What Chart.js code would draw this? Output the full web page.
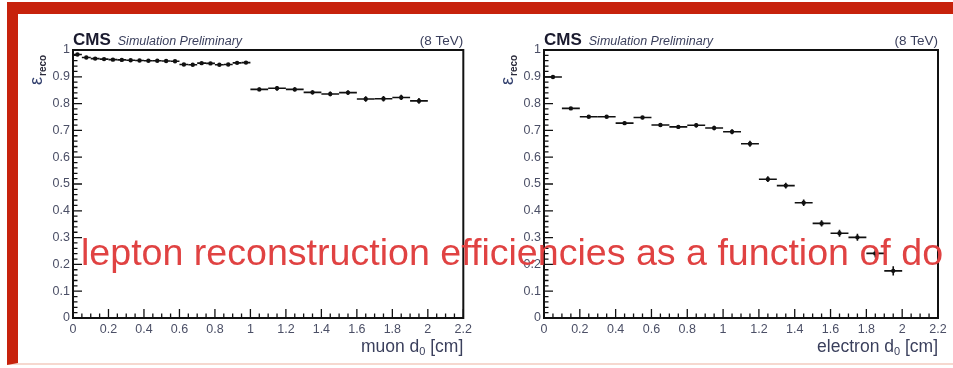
<!DOCTYPE html>
<html>
<head>
<meta charset="utf-8">
<script src="https://cdn.jsdelivr.net/npm/chart.js@4.4.1/dist/chart.umd.min.js"></script>
<style>
    html, body { margin: 0; padding: 0; background: #fff; }
    body { width: 953px; height: 368px; position: relative; overflow: hidden; }
    .frame {
        position: absolute; left: 7px; top: 2px; width: 946px; height: 363px;
        border-top: 12px solid #c7220c; border-left: 11px solid #c7220c;
        border-bottom: 2px solid #f6d8cf; box-sizing: border-box;
    }
    canvas { position: absolute; top: 0; }
    #muonChart { left: 0; }
    #electronChart { left: 476px; }
    .overlay {
        position: absolute; left: 81px; top: 233px; white-space: nowrap;
        font-family: "Liberation Sans", Arial, sans-serif; font-size: 37.6px; line-height: 38px;
        color: #e04242; pointer-events: none;
    }
</style>
</head>
<body>
<div class="frame"></div>
<canvas id="muonChart" width="476" height="368"></canvas>
<canvas id="electronChart" width="477" height="368"></canvas>
<div class="overlay">lepton reconstruction efficiencies as a function of do</div>
<script>
// bin edges in d0 [cm] and efficiency per bin
const muonEdges = [0, 0.05, 0.1, 0.15, 0.2, 0.25, 0.3, 0.35, 0.4, 0.45, 0.5, 0.55, 0.6, 0.65, 0.7, 0.75, 0.8, 0.85, 0.9, 0.95, 1.0,
                   1.1, 1.2, 1.3, 1.4, 1.5, 1.6, 1.7, 1.8, 1.9, 2.0];
const muonEff = [0.983, 0.972, 0.968, 0.966, 0.964, 0.963, 0.962, 0.961, 0.960, 0.960, 0.959, 0.958, 0.946, 0.945, 0.951, 0.950, 0.945, 0.946, 0.952, 0.953,
                 0.853, 0.857, 0.853, 0.842, 0.836, 0.841, 0.817, 0.818, 0.823, 0.810];
const muonErr = [0.003, 0.003, 0.003, 0.003, 0.003, 0.003, 0.003, 0.003, 0.003, 0.003, 0.003, 0.003, 0.003, 0.003, 0.003, 0.003, 0.003, 0.003, 0.003, 0.003,
                 0.007, 0.009, 0.008, 0.008, 0.009, 0.009, 0.010, 0.010, 0.010, 0.011];

const electronEdges = [0, 0.1, 0.2, 0.3, 0.4, 0.5, 0.6, 0.7, 0.8, 0.9, 1.0, 1.1, 1.2, 1.3, 1.4, 1.5, 1.6, 1.7, 1.8, 1.9, 2.0];
const electronEff = [0.899, 0.782, 0.751, 0.751, 0.727, 0.748, 0.720, 0.713, 0.719, 0.709,
                     0.695, 0.650, 0.518, 0.494, 0.430, 0.353, 0.316, 0.301, 0.241, 0.176];
const electronErr = [0.005, 0.005, 0.005, 0.005, 0.006, 0.006, 0.007, 0.007, 0.008, 0.008,
                     0.009, 0.011, 0.011, 0.011, 0.012, 0.012, 0.013, 0.013, 0.015, 0.017];

const xMin = 0, xMax = 2.2, xMajor = 0.2, xMinor = 0.05;
const yMin = 0, yMax = 1, yMajor = 0.1, yMinor = 0.02;

const FONT = '"Liberation Sans", Arial, sans-serif';
const LABEL_COLOR = '#4b4f66';

function toPoints(edges, eff) {
    return eff.map((v, i) => ({ x: (edges[i] + edges[i + 1]) / 2, y: v }));
}

// ROOT-like decorations: frame, inner ticks, error bars, header and axis titles
const rootStyle = {
    id: 'rootStyle',
    afterDatasetsDraw(chart) {
        const ctx = chart.ctx;
        const xs = chart.scales.x, ys = chart.scales.y;
        const ds = chart.data.datasets[0];
        ctx.save();
        ctx.strokeStyle = '#111';
        ctx.lineWidth = 1.6;
        ds.eff.forEach((v, i) => {
            const x0 = xs.getPixelForValue(ds.edges[i]);
            const x1 = xs.getPixelForValue(ds.edges[i + 1]);
            const xc = xs.getPixelForValue((ds.edges[i] + ds.edges[i + 1]) / 2);
            const y = ys.getPixelForValue(v);
            const yLo = ys.getPixelForValue(v - ds.err[i]);
            const yHi = ys.getPixelForValue(v + ds.err[i]);
            ctx.beginPath();
            ctx.moveTo(x0, y); ctx.lineTo(x1, y);
            ctx.moveTo(xc, yLo); ctx.lineTo(xc, yHi);
            ctx.stroke();
        });
        ctx.restore();
    },
    afterDraw(chart) {
        const ctx = chart.ctx;
        const a = chart.chartArea;
        const xs = chart.scales.x, ys = chart.scales.y;
        const opts = chart.options.plugins.rootStyle;
        ctx.save();

        // frame
        ctx.strokeStyle = '#111';
        ctx.lineWidth = 2;
        ctx.strokeRect(a.left, a.top, a.right - a.left, a.bottom - a.top);

        // ticks pointing inside
        ctx.lineWidth = 1.3;
        ctx.beginPath();
        for (let k = 0; k <= Math.round((xMax - xMin) / xMinor); k++) {
            const v = xMin + k * xMinor;
            const px = xs.getPixelForValue(v);
            const major = k % Math.round(xMajor / xMinor) === 0;
            ctx.moveTo(px, a.bottom);
            ctx.lineTo(px, a.bottom - (major ? 9 : 4.5));
        }
        for (let k = 0; k <= Math.round((yMax - yMin) / yMinor); k++) {
            const v = yMin + k * yMinor;
            const py = ys.getPixelForValue(v);
            const major = k % Math.round(yMajor / yMinor) === 0;
            ctx.moveTo(a.left, py);
            ctx.lineTo(a.left + (major ? 9 : 4.5), py);
        }
        ctx.stroke();

        // header
        ctx.fillStyle = '#1a1a2e';
        ctx.textBaseline = 'alphabetic';
        ctx.textAlign = 'left';
        ctx.font = 'bold 17px ' + FONT;
        ctx.fillText('CMS', a.left, a.top - 5);
        const cmsW = ctx.measureText('CMS').width;
        ctx.fillStyle = '#3a3f5c';
        ctx.font = 'italic 12.5px ' + FONT;
        ctx.fillText('Simulation Preliminary', a.left + cmsW + 7, a.top - 5);
        ctx.textAlign = 'right';
        ctx.font = '13.5px ' + FONT;
        ctx.fillText('(8 TeV)', a.right, a.top - 5);

        // x title with subscript
        ctx.fillStyle = '#3a3f5c';
        ctx.textAlign = 'left';
        const base = a.bottom + 34;
        const big = '17.5px ' + FONT, small = '11px ' + FONT;
        ctx.font = big;
        const tail = ' [cm]';
        const wTail = ctx.measureText(tail).width;
        const head = opts.xTitle + ' d';
        const wHead = ctx.measureText(head).width;
        ctx.font = small;
        const wSub = ctx.measureText('0').width;
        let x = a.right - wTail - wSub - wHead;
        ctx.font = big;
        ctx.fillText(head, x, base);
        ctx.font = small;
        ctx.fillText('0', x + wHead, base + 3);
        ctx.font = big;
        ctx.fillText(tail, x + wHead + wSub, base);

        // y title, rotated
        ctx.translate(a.left - 31, a.top + 35);
        ctx.rotate(-Math.PI / 2);
        ctx.font = '18px ' + FONT;
        ctx.fillStyle = '#33406e';
        ctx.fillText('\u03b5', 0, 0);
        const wEps = ctx.measureText('\u03b5').width;
        ctx.font = 'bold 10px ' + FONT;
        ctx.fillStyle = '#2a2a3a';
        ctx.fillText('reco', wEps + 1, 4);

        ctx.restore();
    }
};

function makeChart(canvasId, edges, eff, err, xTitle, padLeft, padRight) {
    const ctx = document.getElementById(canvasId).getContext('2d');
    const data = {
        datasets: [{
            data: toPoints(edges, eff),
            edges: edges,
            eff: eff,
            err: err,
            pointRadius: 2.2,
            pointBackgroundColor: '#111',
            pointBorderWidth: 0,
            showLine: false
        }]
    };
    const config = {
        type: 'scatter',
        data: data,
        options: {
            responsive: false,
            animation: false,
            layout: { padding: { top: 50, left: padLeft, right: padRight, bottom: 0 } },
            plugins: {
                legend: { display: false },
                tooltip: { enabled: false },
                rootStyle: { xTitle: xTitle }
            },
            scales: {
                x: {
                    type: 'linear', min: xMin, max: xMax,
                    grid: { display: false, drawTicks: false },
                    border: { display: false },
                    ticks: {
                        stepSize: xMajor, padding: 4, maxRotation: 0, autoSkip: false,
                        color: LABEL_COLOR, font: { family: FONT, size: 12.5 },
                        callback: v => String(Math.round(v * 10) / 10)
                    },
                    afterFit: s => { s.height = 50; }
                },
                y: {
                    type: 'linear', min: yMin, max: yMax,
                    grid: { display: false, drawTicks: false },
                    border: { display: false },
                    ticks: {
                        stepSize: yMajor, padding: 3, autoSkip: false,
                        color: LABEL_COLOR, font: { family: FONT, size: 12.5 },
                        callback: v => String(Math.round(v * 10) / 10)
                    },
                    afterFit: s => { s.width = 53; }
                }
            }
        },
        plugins: [rootStyle]
    };
    return new Chart(ctx, config);
}

document.addEventListener("DOMContentLoaded", function() {
    makeChart('muonChart', muonEdges, muonEff, muonErr, 'muon', 20, 9);
    makeChart('electronChart', electronEdges, electronEff, electronErr, 'electron', 15, 15);
});
</script>
</body>
</html>
